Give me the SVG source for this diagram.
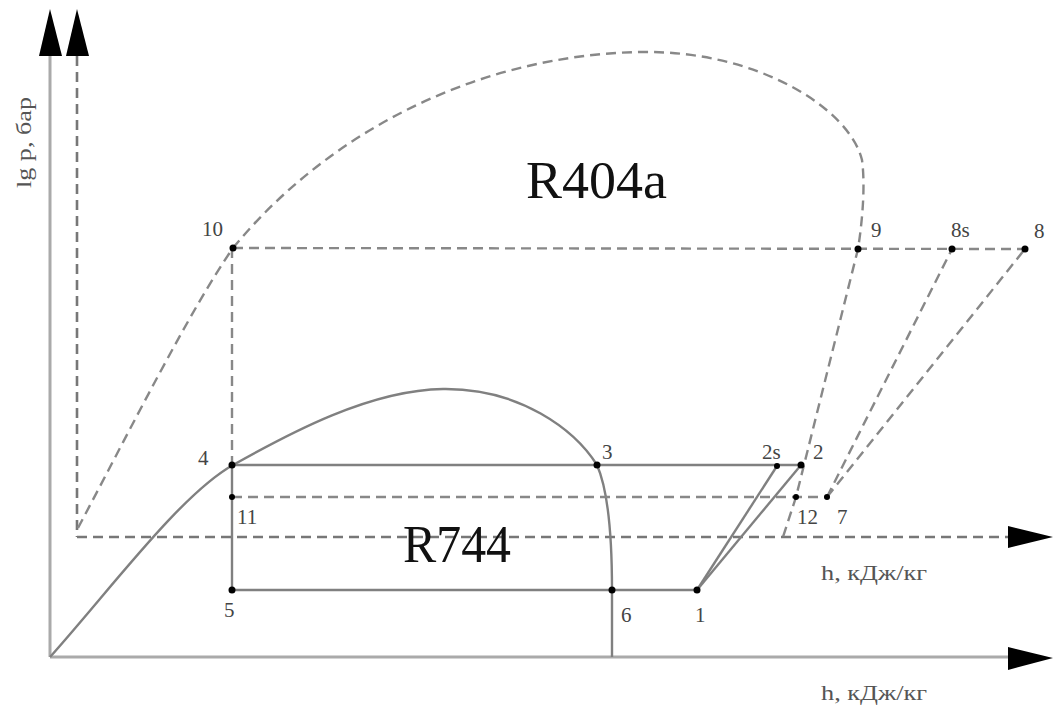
<svg xmlns="http://www.w3.org/2000/svg" width="1054" height="711" viewBox="0 0 1054 711">
<style>
.ax{stroke:#aaa;stroke-width:3;fill:none}
.axd{stroke:#777;stroke-width:2.6;fill:none;stroke-dasharray:10 6}
.s{stroke:#808080;stroke-width:2.4;fill:none}
.d{stroke:#888;stroke-width:2.4;fill:none;stroke-dasharray:10 6}
.arr{fill:#000}
.pt{fill:#000}
.lb{font-family:"Liberation Serif",serif;font-size:21px;fill:#444}
.big{font-family:"Liberation Serif",serif;font-size:52px;fill:#111}
.ax-lb{font-family:"Liberation Serif",serif;font-size:21px;fill:#555}
</style>
<rect width="1054" height="711" fill="#fff"/>
<g id="axes">
<line class="ax" x1="50" y1="52" x2="50" y2="657"/>
<line class="ax" x1="50" y1="657" x2="1010" y2="657"/>
<polygon class="arr" points="50,9 62,56 39,56"/>
<polygon class="arr" points="1053,658 1008,647 1008,670"/>
<line class="axd" x1="77" y1="56" x2="77" y2="537"/>
<line class="axd" x1="77" y1="537" x2="1008" y2="537"/>
<polygon class="arr" points="77,9 89,56 66,56"/>
<polygon class="arr" points="1053,537 1008,526 1008,548"/>
<text class="ax-lb" transform="translate(31,188) rotate(-90)" textLength="91" lengthAdjust="spacingAndGlyphs">lg p, бар</text>
<text class="ax-lb" x="821" y="580" textLength="106" lengthAdjust="spacingAndGlyphs">h, кДж/кг</text>
<text class="ax-lb" x="821" y="700" textLength="106" lengthAdjust="spacingAndGlyphs">h, кДж/кг</text>
</g>
<g id="connectors">
<path id="dome-r404a" class="d" d="M78,528 C130,430 190,310 233,248 C330,130 480,55 640,52 C760,50 850,110 862,160 C866,190 861,230 858,249 L796,497 L783,537"/>
<path id="dome-r744" class="s" d="M50,657 C110,590 180,495 233,465 C290,433 370,390 443,389 C520,388 575,430 597,465 C608,490 612,540 612,590 L612,657"/>
<line class="d" x1="233" y1="248" x2="1025" y2="249"/>
<line class="d" x1="232" y1="248" x2="232" y2="465"/>
<line class="s" x1="232" y1="465" x2="232" y2="590"/>
<line class="s" x1="232" y1="465" x2="801" y2="465"/>
<line class="d" x1="232" y1="497" x2="827" y2="497"/>
<line class="s" x1="232" y1="590" x2="697" y2="590"/>
<line class="s" x1="697" y1="590" x2="777" y2="466"/>
<line class="s" x1="697" y1="590" x2="801" y2="465"/>
<line class="d" x1="827" y1="497" x2="952" y2="249"/>
<line class="d" x1="827" y1="497" x2="1025" y2="249"/>
</g>
<g id="title-r404a"><text class="big" x="526" y="198" textLength="141" lengthAdjust="spacingAndGlyphs">R404a</text></g>
<g id="title-r744"><text class="big" x="403" y="562" textLength="108" lengthAdjust="spacingAndGlyphs">R744</text></g>
<g id="p10"><circle class="pt" cx="233" cy="248" r="3.5"/><text class="lb" x="202" y="236">10</text></g>
<g id="p9"><circle class="pt" cx="858" cy="249" r="3.5"/><text class="lb" x="871" y="237">9</text></g>
<g id="p8s"><circle class="pt" cx="952" cy="249" r="3.5"/><text class="lb" x="951" y="237">8s</text></g>
<g id="p8"><circle class="pt" cx="1025" cy="249" r="3.5"/><text class="lb" x="1034" y="238">8</text></g>
<g id="p4"><circle class="pt" cx="232" cy="465" r="3.5"/><text class="lb" x="198" y="465">4</text></g>
<g id="p3"><circle class="pt" cx="597" cy="465" r="3.5"/><text class="lb" x="602" y="459">3</text></g>
<g id="p2s"><circle class="pt" cx="777" cy="466" r="3"/><text class="lb" x="762" y="459">2s</text></g>
<g id="p2"><circle class="pt" cx="801" cy="465" r="3.5"/><text class="lb" x="813" y="459">2</text></g>
<g id="p11"><circle class="pt" cx="232" cy="497" r="3"/><text class="lb" x="237" y="524">11</text></g>
<g id="p12"><circle class="pt" cx="796" cy="497" r="3"/><text class="lb" x="797" y="524">12</text></g>
<g id="p7"><circle class="pt" cx="827" cy="497" r="3"/><text class="lb" x="837" y="524">7</text></g>
<g id="p5"><circle class="pt" cx="232" cy="590" r="3.5"/><text class="lb" x="224" y="617">5</text></g>
<g id="p6"><circle class="pt" cx="612" cy="590" r="3.5"/><text class="lb" x="621" y="622">6</text></g>
<g id="p1"><circle class="pt" cx="697" cy="590" r="3.5"/><text class="lb" x="695" y="622">1</text></g>
</svg>
